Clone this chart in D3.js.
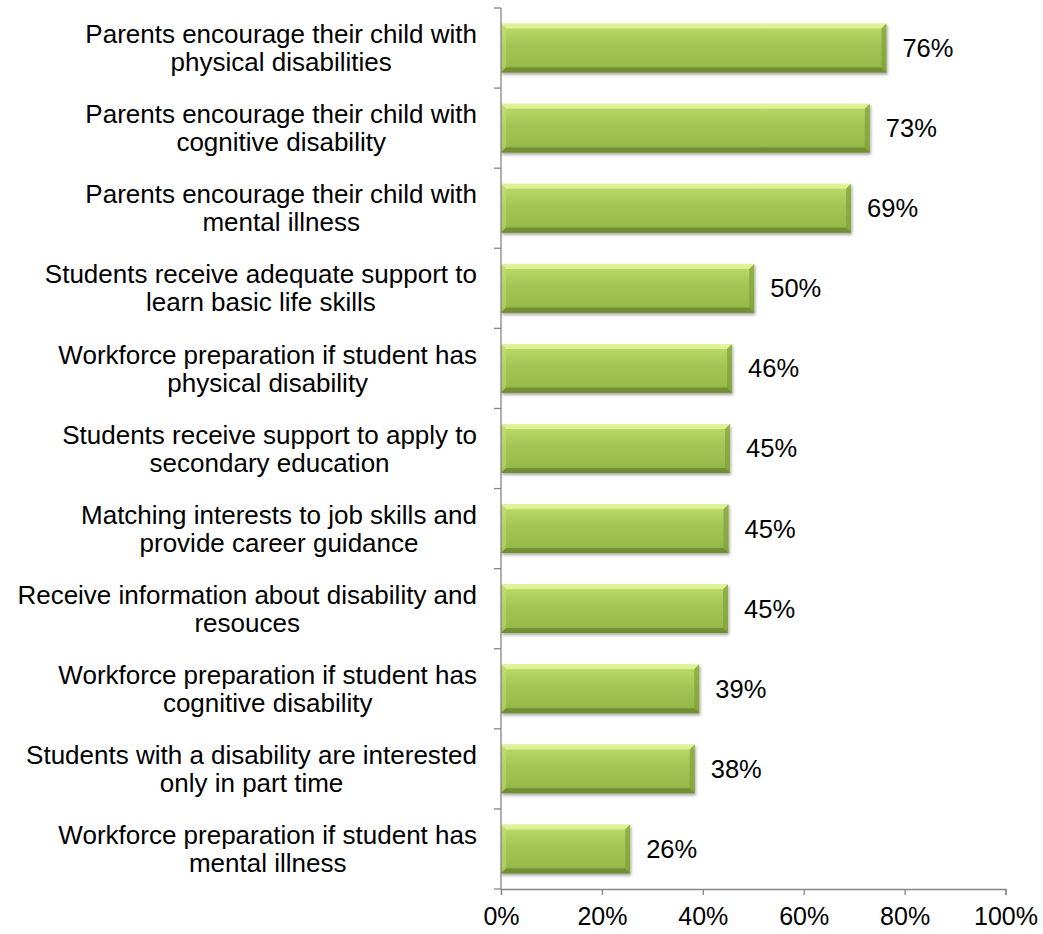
<!DOCTYPE html>
<html>
<head>
<meta charset="utf-8">
<script src="https://cdn.jsdelivr.net/npm/d3@7"></script>
<style>
  html, body { margin: 0; padding: 0; background: #ffffff; }
  svg { display: block; }
  text { font-family: "Liberation Sans", Arial, sans-serif; fill: #000; }
</style>
</head>
<body>
<svg id="chart" width="1043" height="934"></svg>
<script>
// Survey items, top to bottom
const categories = [
  "Parents encourage their child with physical disabilities",
  "Parents encourage their child with cognitive disability",
  "Parents encourage their child with mental illness",
  "Students receive adequate support to learn basic life skills",
  "Workforce preparation if student has physical disability",
  "Students receive support to apply to secondary education",
  "Matching interests to job skills and provide career guidance",
  "Receive information about disability and resouces",
  "Workforce preparation if student has cognitive disability",
  "Students with a disability are interested only in part time",
  "Workforce preparation if student has mental illness"
];

// Label lines as they wrap in the category column
const categoryLines = [
  ["Parents encourage their child with", "physical disabilities"],
  ["Parents encourage their child with", "cognitive disability"],
  ["Parents encourage their child with", "mental illness"],
  ["Students receive adequate support to", "learn basic life skills"],
  ["Workforce preparation if student has", "physical disability"],
  ["Students receive support to apply to", "secondary education"],
  ["Matching interests to job skills and", "provide career guidance"],
  ["Receive information about disability and", "resouces"],
  ["Workforce preparation if student has", "cognitive disability"],
  ["Students with a disability are interested", "only in part time"],
  ["Workforce preparation if student has", "mental illness"]
];

// Share of respondents agreeing
const values = [0.764, 0.731, 0.694, 0.502, 0.458, 0.454, 0.451, 0.450, 0.393, 0.384, 0.256];

const xTicks = [0, 0.2, 0.4, 0.6, 0.8, 1.0];

const svg = d3.select("#chart");
const LABEL_FONT = 26;
const LINE_STEP = 28;
const VALUE_FONT = 25.5;
const TICK_FONT = 25;

const x = d3.scaleLinear().domain([0, 1]).range([501, 1005.5]);
const y = d3.scaleBand().domain(categories).range([8, 889])
  .paddingInner(0.39).paddingOuter(0.195);

const fmt = d3.format(".0%");

// Gradients and shadow for the bevelled bars
const defs = svg.append("defs");
const grad = defs.append("linearGradient").attr("id", "barFill")
  .attr("x1", 0).attr("y1", 0).attr("x2", 0).attr("y2", 1);
[["0%", "#d2ea86"], ["10%", "#b8d766"], ["45%", "#a2c555"], ["85%", "#98bb4c"], ["100%", "#7c9a39"]]
  .forEach(([o, c]) => grad.append("stop").attr("offset", o).attr("stop-color", c));

const shadow = defs.append("filter").attr("id", "barShadow")
  .attr("x", "-5%").attr("y", "-20%").attr("width", "115%").attr("height", "150%");
shadow.append("feGaussianBlur").attr("in", "SourceAlpha").attr("stdDeviation", 1.5).attr("result", "b");
shadow.append("feOffset").attr("in", "b").attr("dx", 1).attr("dy", 1.5).attr("result", "o");
shadow.append("feComponentTransfer").attr("in", "o").attr("result", "s")
  .append("feFuncA").attr("type", "linear").attr("slope", 0.35);
const merge = shadow.append("feMerge");
merge.append("feMergeNode").attr("in", "s");
merge.append("feMergeNode").attr("in", "SourceGraphic");

// Bars
const bars = svg.append("g").selectAll("g.bar")
  .data(categories.map((c, i) => ({ c, v: values[i] })))
  .join("g").attr("class", "bar").attr("filter", "url(#barShadow)");

const bv = 5; // bevel depth
bars.each(function(d) {
  const g = d3.select(this);
  const x0 = x(0), x1 = x(d.v), y0 = y(d.c), y1 = y(d.c) + y.bandwidth();
  g.append("rect").attr("x", x0).attr("y", y0).attr("width", x1 - x0).attr("height", y1 - y0)
    .attr("fill", "url(#barFill)");
  // top bevel
  g.append("path").attr("d", `M${x0},${y0}L${x1},${y0}L${x1 - bv},${y0 + bv}L${x0 + bv},${y0 + bv}Z`)
    .attr("fill", "#e6f7a2").attr("opacity", 0.75);
  // left bevel
  g.append("path").attr("d", `M${x0},${y0}L${x0 + bv},${y0 + bv}L${x0 + bv},${y1 - bv}L${x0},${y1}Z`)
    .attr("fill", "#c4df78").attr("opacity", 0.5);
  // right bevel
  g.append("path").attr("d", `M${x1},${y0}L${x1},${y1}L${x1 - bv},${y1 - bv}L${x1 - bv},${y0 + bv}Z`)
    .attr("fill", "#82a23d").attr("opacity", 0.75);
  // bottom bevel
  g.append("path").attr("d", `M${x0},${y1}L${x1},${y1}L${x1 - bv},${y1 - bv}L${x0 + bv},${y1 - bv}Z`)
    .attr("fill", "#6c8a2f").attr("opacity", 0.8);
});

// Value labels
svg.append("g").selectAll("text")
  .data(categories.map((c, i) => ({ c, v: values[i] })))
  .join("text")
  .attr("x", d => x(d.v) + 16)
  .attr("y", d => y(d.c) + y.bandwidth() / 2)
  .attr("dy", "0.35em")
  .attr("font-size", VALUE_FONT)
  .text(d => fmt(d.v));

// Axes
const axisColor = "#868686";
const yAxis = svg.append("g").attr("transform", `translate(${x(0)},0)`);
yAxis.append("line").attr("x1", 0).attr("x2", 0).attr("y1", 8).attr("y2", 889)
  .attr("stroke", axisColor).attr("stroke-width", 1.3);
const bounds = categories.map(c => y(c) - y.step() * y.paddingInner() / 2).concat([889]);
bounds[0] = 8;
yAxis.selectAll("line.tick").data(bounds).join("line").attr("class", "tick")
  .attr("x1", -7).attr("x2", 0).attr("y1", d => d).attr("y2", d => d)
  .attr("stroke", axisColor).attr("stroke-width", 1.3);

const xAxis = svg.append("g").attr("transform", "translate(0,889)")
  .call(d3.axisBottom(x).tickValues(xTicks).tickFormat(fmt).tickSize(6).tickPadding(12));
xAxis.select(".domain").attr("stroke", axisColor).attr("stroke-width", 1.3);
xAxis.selectAll(".tick line").attr("stroke", axisColor).attr("stroke-width", 1.3);
xAxis.selectAll(".tick text").attr("font-size", TICK_FONT)
  .attr("font-family", "Liberation Sans, Arial, sans-serif").attr("fill", "#000");

// Category labels: each block right-aligned, lines centred within it
const labelRight = 477;
const lab = svg.append("g");
categoryLines.forEach((lines, i) => {
  const cy = y(categories[i]) + y.bandwidth() / 2;
  const g = lab.append("g");
  const ts = lines.map((t, k) => g.append("text")
    .attr("font-size", LABEL_FONT)
    .attr("y", cy + (k - (lines.length - 1) / 2) * LINE_STEP)
    .attr("dy", "0.35em")
    .attr("text-anchor", "middle")
    .text(t));
  const w = d3.max(ts, t => t.node().getComputedTextLength());
  ts.forEach(t => t.attr("x", labelRight - w / 2));
});
</script>
</body>
</html>
